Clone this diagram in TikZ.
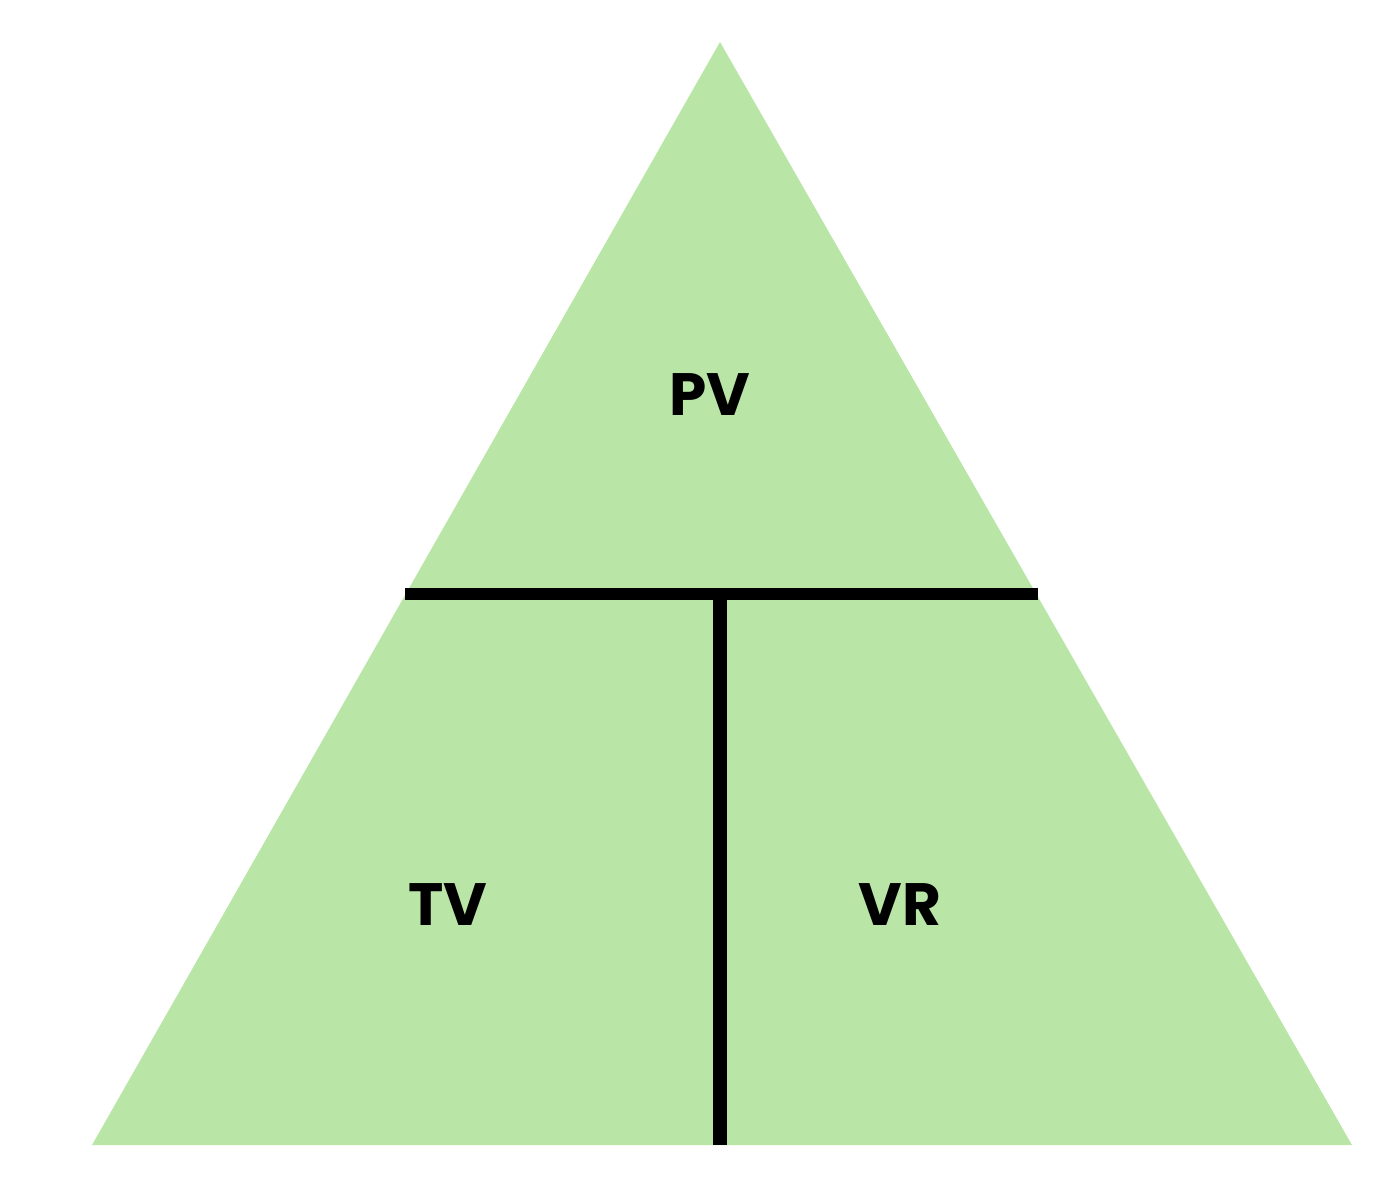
\documentclass[tikz,border=0pt]{standalone}
\usepackage{fontspec}
\setmainfont{Poppins}
\definecolor{tri}{HTML}{B9E6A7}
\begin{document}
\begin{tikzpicture}[x=0.02cm,y=-0.02cm,
  lbl/.style={font=\fontsize{34}{40}\selectfont\bfseries, inner sep=0pt}]
\useasboundingbox (0,0) rectangle (1379,1200);
\coordinate (apex) at (720,42);
\coordinate (bl) at (92,1145);
\coordinate (br) at (1352,1145);
\fill[tri] (apex) -- (br) -- (bl) -- cycle;
\coordinate (hl) at (405,594);
\coordinate (hr) at (1038,594);
\coordinate (vt) at (720,594);
\coordinate (vb) at (720,1145);
\draw[line width=12*0.567pt] (hl) -- (hr);
\draw[line width=14*0.567pt] (vt) -- (vb);
\node[lbl] (pv) at (710,395) {PV};
\node[lbl] (tv) at (448,905) {TV};
\node[lbl] (vr) at (900,905) {VR};
\end{tikzpicture}
\end{document}
